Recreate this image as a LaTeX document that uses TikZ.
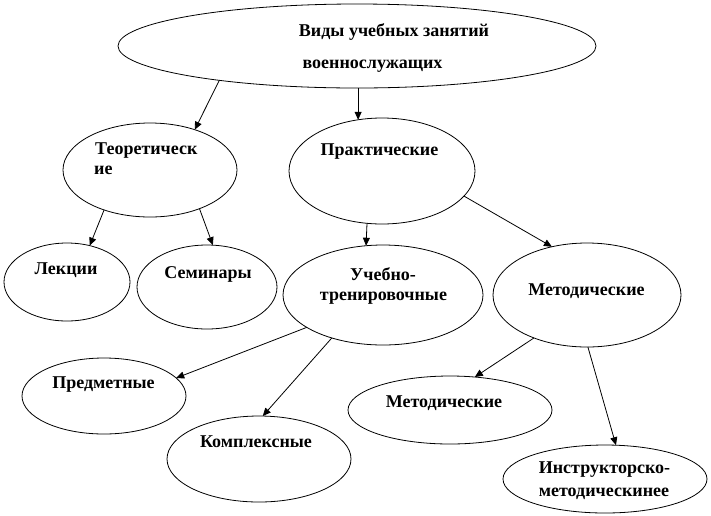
\documentclass[tikz,border=0pt]{standalone}
\usepackage{fontspec}
\setmainfont{Liberation Serif}
\usetikzlibrary{shapes.geometric,arrows.meta}
\tikzset{
  ell/.style={draw, ellipse, inner sep=0pt, outer sep=0pt, line width=0.8pt},
  lbl/.style={font=\fontsize{18}{21}\selectfont\bfseries, inner sep=0pt, anchor=base},
  arr/.style={line width=0.8pt, -{Triangle[length=8pt,width=7pt]}}
}
\begin{document}
\begin{tikzpicture}[x=1pt,y=-1pt]
\useasboundingbox (0,0) rectangle (711,515);
% ellipses
\node[ell, minimum width=478pt, minimum height=84pt] (T) at (357,46) {};
\node[ell, minimum width=174pt, minimum height=94pt] (Th) at (150,170) {};
\node[ell, minimum width=126pt, minimum height=78pt] (L) at (67,282) {};
\node[ell, minimum width=140pt, minimum height=84pt] (S) at (207,287) {};
\node[ell, minimum width=186pt, minimum height=106pt] (P) at (382,171) {};
\node[ell, minimum width=200pt, minimum height=100pt] (U) at (383,295) {};
\node[ell, minimum width=188pt, minimum height=104pt] (M) at (587,295) {};
\node[ell, minimum width=164pt, minimum height=76pt] (Pr) at (104,396) {};
\node[ell, minimum width=184pt, minimum height=86pt] (K) at (259,459) {};
\node[ell, minimum width=204pt, minimum height=68pt] (MB) at (450,410) {};
\node[ell, minimum width=204pt, minimum height=68pt] (I) at (605,479) {};
% labels
\node[lbl] (tT1) at (394,36) {Виды учебных занятий};
\node[lbl] (tT2) at (372.5,68) {военнослужащих};
\node[lbl, anchor=base west] (tTh1) at (95,154) {Теоретическ};
\node[lbl, anchor=base west] (tTh2) at (94,174) {ие};
\node[lbl] (tL) at (66,274) {Лекции};
\node[lbl] (tS) at (208,278) {Семинары};
\node[lbl] (tP) at (379.5,155) {Практические};
\node[lbl] (tU1) at (383,280) {Учебно-};
\node[lbl] (tU2) at (383.5,300) {тренировочные};
\node[lbl] (tM) at (586.5,295) {Методические};
\node[lbl] (tPr) at (103.5,388) {Предметные};
\node[lbl] (tK) at (256,447) {Комплексные};
\node[lbl] (tMB) at (444,407) {Методические};
\node[lbl] (tI1) at (604.5,473) {Инструкторско-};
\node[lbl] (tI2) at (604,496) {методическинее};
% arrows
\draw[arr] (T.194) -- (Th.42);
\draw[arr] (P.115 |- T.south) -- (P.115);
\draw[arr] (Th.221) -- (L.58);
\draw[arr] (Th.322) -- (S.82);
\draw[arr] (P.254) -- (U.109);
\draw[arr] (P.343) -- (M.126);
\draw[arr] (U.203) -- (Pr.14);
\draw[arr] (U.220) -- (K.85);
\draw[arr] (M.219) -- (MB.53);
\draw[arr] (M.271) -- (I.72);
\end{tikzpicture}
\end{document}
